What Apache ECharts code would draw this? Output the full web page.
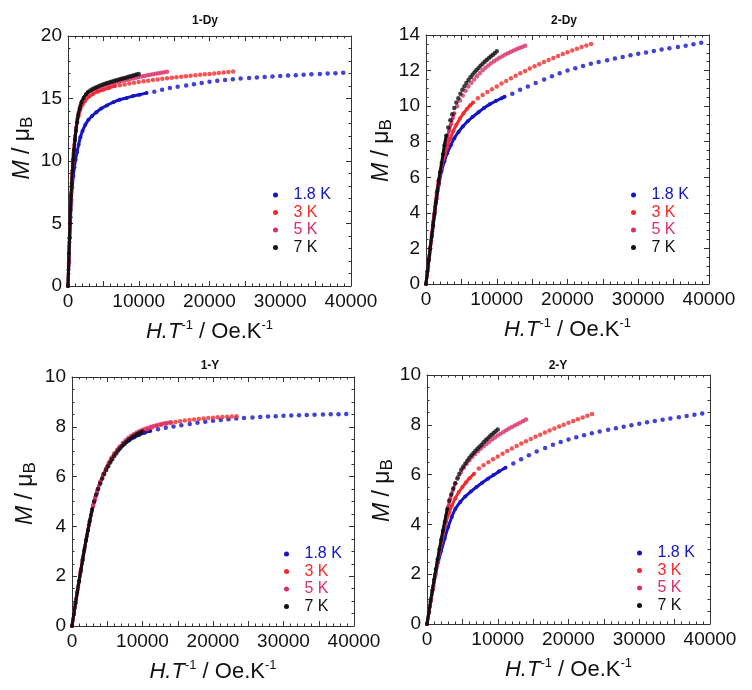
<!DOCTYPE html>
<html><head><meta charset="utf-8">
<script src="https://cdn.jsdelivr.net/npm/echarts@6/dist/echarts.min.js"></script>
<style>html,body{margin:0;padding:0;background:#fff}#c{width:752px;height:690px}</style>
</head><body><div id="c"></div>
<script>
// ---------- labels ----------
const temps = ['1.8 K', '3 K', '5 K', '7 K'];
const panelTitles = ['1-Dy', '2-Dy', '1-Y', '2-Y'];
const xTickLabels = [0, 10000, 20000, 30000, 40000];
const yMaxes = [20, 14, 10, 10];
const yIntervals = [5, 2, 2, 2];

// ---------- 1-Dy ----------
const dy1_18_low = [[0,0],[120,2.0],[240,3.9],[360,5.5],[480,6.9],[600,7.9],[750,8.8],[900,9.5],[1070,10.1],[1270,10.7],[1500,11.3],[1750,11.9],[2050,12.4],[2450,12.9],[2900,13.3],[3400,13.6],[4000,13.9],[4700,14.2],[5500,14.45],[6400,14.7],[7300,14.9],[8300,15.05],[9200,15.2],[10100,15.3],[11100,15.45]];
const dy1_18_high = [[12200,15.55],[13300,15.7],[14400,15.85],[15500,15.95],[16700,16.05],[17800,16.15],[18900,16.25],[20000,16.35],[21100,16.42],[22200,16.48],[23300,16.54],[24400,16.6],[25600,16.65],[26700,16.69],[27800,16.73],[28900,16.77],[30000,16.8],[31100,16.84],[32200,16.87],[33300,16.9],[34400,16.94],[35600,16.97],[36700,17.0],[37800,17.03],[38900,17.06]];
const dy1_3_low = [[0,0],[100,1.8],[200,3.5],[300,5.1],[400,6.6],[500,7.9],[600,9.0],[700,9.9],[800,10.7],[950,11.6],[1100,12.4],[1300,13.1],[1500,13.6],[1750,14.1],[2050,14.5],[2400,14.8],[2900,15.1],[3500,15.35],[4200,15.55],[5000,15.7],[5800,15.85],[6650,16.0]];
const dy1_3_high = [[7330,16.07],[8000,16.13],[8670,16.2],[9330,16.26],[10000,16.32],[10670,16.38],[11330,16.43],[12000,16.48],[12670,16.53],[13330,16.58],[14000,16.63],[14670,16.67],[15330,16.71],[16000,16.75],[16670,16.79],[17330,16.83],[18000,16.87],[18670,16.9],[19330,16.94],[20000,16.97],[20670,17.0],[21330,17.04],[22000,17.08],[22670,17.12],[23330,17.16]];
const dy1_5_low = [[0,0],[90,1.6],[180,3.2],[270,4.7],[360,6.1],[450,7.4],[550,8.6],[650,9.6],[760,10.5],[880,11.3],[1000,12.0],[1150,12.7],[1320,13.4],[1500,13.9],[1720,14.4],[2000,14.8],[2350,15.15],[2800,15.4],[3300,15.6],[4000,15.78]];
const dy1_5_high = [[4400,15.85],[4800,15.93],[5200,16.0],[5600,16.07],[6000,16.14],[6400,16.21],[6800,16.28],[7200,16.34],[7600,16.4],[8000,16.46],[8400,16.51],[8800,16.57],[9200,16.62],[9600,16.67],[10000,16.72],[10400,16.77],[10800,16.81],[11200,16.86],[11600,16.9],[12000,16.94],[12400,16.98],[12800,17.02],[13200,17.06],[13600,17.1],[14000,17.14]];
const dy1_7_low = [[0,0],[70,1.3],[140,2.6],[210,3.8],[280,5.0],[350,6.1],[430,7.2],[520,8.2],[620,9.2],[730,10.1],[850,10.9],[980,11.7],[1120,12.4],[1280,13.1],[1450,13.7],[1650,14.2],[1900,14.7],[2200,15.05],[2550,15.35],[2860,15.55]];
const dy1_7_high = [[3140,15.65],[3430,15.74],[3710,15.82],[4000,15.9],[4290,15.97],[4570,16.04],[4860,16.1],[5140,16.16],[5430,16.22],[5710,16.27],[6000,16.32],[6290,16.37],[6570,16.42],[6860,16.47],[7140,16.51],[7430,16.56],[7710,16.6],[8000,16.65],[8290,16.69],[8570,16.74],[8860,16.78],[9140,16.83],[9430,16.88],[9710,16.92],[10000,16.97]];

// ---------- 2-Dy ----------
const dy2_18_low = [[0,0],[300,1.0],[600,2.0],[900,2.95],[1200,3.9],[1500,4.8],[1850,5.65],[2200,6.35],[2600,6.9],[3000,7.35],[3500,7.8],[4000,8.2],[4600,8.55],[5200,8.85],[5900,9.15],[6600,9.4],[7400,9.65],[8200,9.9],[9000,10.1],[9900,10.3],[10700,10.45],[11100,10.53]];
const dy2_18_high = [[12200,10.7],[13300,10.92],[14400,11.1],[15500,11.3],[16700,11.5],[17800,11.68],[18900,11.85],[20000,12.0],[21100,12.13],[22200,12.26],[23300,12.38],[24400,12.48],[25600,12.58],[26700,12.68],[27800,12.77],[28900,12.86],[30000,12.94],[31100,13.02],[32200,13.1],[33300,13.18],[34400,13.25],[35600,13.32],[36700,13.4],[37800,13.48],[38900,13.56]];
const dy2_3_low = [[0,0],[200,0.7],[400,1.4],[600,2.1],[800,2.8],[1000,3.5],[1250,4.35],[1500,5.15],[1750,5.8],[2000,6.3],[2300,6.8],[2650,7.25],[3000,7.7],[3400,8.15],[3850,8.6],[4300,8.95],[4800,9.3],[5300,9.6],[5800,9.85],[6250,10.05],[6650,10.2]];
const dy2_3_high = [[7330,10.45],[8000,10.62],[8670,10.79],[9330,10.95],[10000,11.11],[10670,11.27],[11330,11.42],[12000,11.57],[12670,11.71],[13330,11.85],[14000,11.98],[14670,12.11],[15330,12.24],[16000,12.36],[16670,12.48],[17330,12.6],[18000,12.71],[18670,12.82],[19330,12.93],[20000,13.03],[20670,13.13],[21330,13.23],[22000,13.32],[22670,13.41],[23330,13.5]];
const dy2_5_low = [[0,0],[250,0.82],[500,1.64],[750,2.45],[1000,3.25],[1250,4.05],[1500,4.8],[1750,5.5],[2000,6.15],[2250,6.7],[2500,7.2],[2750,7.72],[3000,8.2],[3250,8.6],[3500,8.95],[3750,9.3],[4000,9.6]];
const dy2_5_high = [[4400,10.0],[4800,10.32],[5200,10.6],[5600,10.86],[6000,11.1],[6400,11.31],[6800,11.5],[7200,11.68],[7600,11.85],[8000,12.02],[8400,12.16],[8800,12.29],[9200,12.41],[9600,12.52],[10000,12.62],[10400,12.72],[10800,12.81],[11200,12.9],[11600,12.98],[12000,13.06],[12400,13.13],[12800,13.2],[13200,13.27],[13600,13.33],[14000,13.39]];
const dy2_7_low = [[0,0],[200,0.7],[400,1.35],[600,2.0],[800,2.65],[1000,3.3],[1200,3.95],[1400,4.6],[1600,5.2],[1800,5.8],[2000,6.3],[2200,6.8],[2400,7.3],[2600,7.8],[2860,8.35]];
const dy2_7_high = [[3140,8.8],[3430,9.2],[3710,9.55],[4000,9.9],[4290,10.2],[4570,10.45],[4860,10.7],[5140,10.92],[5430,11.12],[5710,11.3],[6000,11.47],[6290,11.62],[6570,11.76],[6860,11.9],[7140,12.03],[7430,12.15],[7710,12.27],[8000,12.38],[8290,12.49],[8570,12.59],[8860,12.69],[9140,12.79],[9430,12.88],[9710,12.97],[10000,13.08]];

// ---------- 1-Y ----------
const y1_18_low = [[0,0],[500,0.9],[1000,1.8],[1500,2.65],[2000,3.45],[2500,4.2],[3000,4.82],[3500,5.32],[4000,5.75],[4500,6.1],[5000,6.4],[5500,6.65],[6000,6.88],[6700,7.12],[7400,7.3],[8100,7.45],[8800,7.57],[9500,7.67],[10300,7.76],[11100,7.83]];
const y1_18_high = [[12200,7.9],[13300,7.96],[14400,8.01],[15500,8.06],[16700,8.11],[17800,8.16],[18900,8.2],[20000,8.24],[21100,8.27],[22200,8.3],[23300,8.33],[24400,8.35],[25600,8.37],[26700,8.39],[27800,8.41],[28900,8.42],[30000,8.44],[31100,8.45],[32200,8.46],[33300,8.47],[34400,8.48],[35600,8.49],[36700,8.5],[37800,8.5],[38900,8.51]];
const y1_3_low = [[0,0],[400,0.72],[800,1.45],[1200,2.15],[1600,2.82],[2000,3.45],[2400,4.05],[2800,4.6],[3200,5.05],[3600,5.45],[4000,5.78],[4500,6.12],[5000,6.42],[5500,6.7],[6000,6.92],[6650,7.15]];
const y1_3_high = [[7330,7.34],[8000,7.5],[8670,7.62],[9330,7.73],[10000,7.82],[10670,7.9],[11330,7.97],[12000,8.03],[12670,8.08],[13330,8.12],[14000,8.16],[14670,8.19],[15330,8.22],[16000,8.25],[16670,8.27],[17330,8.29],[18000,8.31],[18670,8.33],[19330,8.35],[20000,8.36],[20670,8.38],[21330,8.39],[22000,8.4],[22670,8.41],[23330,8.42]];
const y1_5_low = [[0,0],[300,0.55],[600,1.1],[900,1.63],[1200,2.15],[1500,2.66],[1800,3.15],[2100,3.6],[2400,4.05],[2700,4.45],[3000,4.85],[3300,5.17],[3650,5.5],[4000,5.78]];
const y1_5_high = [[4400,6.08],[4800,6.32],[5200,6.55],[5600,6.75],[6000,6.93],[6400,7.08],[6800,7.22],[7200,7.35],[7600,7.46],[8000,7.56],[8400,7.64],[8800,7.71],[9200,7.77],[9600,7.83],[10000,7.88],[10400,7.92],[10800,7.96],[11200,8.0],[11600,8.03],[12000,8.06],[12400,8.09],[12800,8.12],[13200,8.14],[13600,8.16],[14000,8.18]];
const y1_7_low = [[0,0],[250,0.46],[500,0.92],[750,1.37],[1000,1.8],[1250,2.23],[1500,2.65],[1750,3.06],[2000,3.45],[2250,3.83],[2500,4.2],[2860,4.7]];
const y1_7_high = [[3140,5.0],[3430,5.27],[3710,5.5],[4000,5.72],[4290,5.92],[4570,6.1],[4860,6.27],[5140,6.42],[5430,6.57],[5710,6.7],[6000,6.83],[6290,6.94],[6570,7.05],[6860,7.15],[7140,7.24],[7430,7.32],[7710,7.4],[8000,7.47],[8290,7.53],[8570,7.59],[8860,7.64],[9140,7.69],[9430,7.73],[9710,7.77],[10000,7.81]];

// ---------- 2-Y ----------
const y2_18_low = [[0,0],[400,0.7],[800,1.38],[1200,1.98],[1600,2.5],[2000,2.93],[2500,3.43],[3000,3.9],[3500,4.3],[4000,4.62],[4700,4.9],[5400,5.12],[6200,5.32],[7000,5.5],[7800,5.67],[8600,5.83],[9400,5.98],[10200,6.13],[11100,6.28]];
const y2_18_high = [[12200,6.45],[13300,6.62],[14400,6.78],[15500,6.93],[16700,7.07],[17800,7.2],[18900,7.31],[20000,7.41],[21100,7.5],[22200,7.58],[23300,7.66],[24400,7.73],[25600,7.8],[26700,7.86],[27800,7.92],[28900,7.98],[30000,8.04],[31100,8.1],[32200,8.15],[33300,8.2],[34400,8.25],[35600,8.3],[36700,8.35],[37800,8.4],[38900,8.45]];
const y2_3_low = [[0,0],[300,0.5],[600,1.0],[900,1.5],[1200,2.0],[1500,2.48],[1800,2.93],[2100,3.35],[2400,3.75],[2700,4.1],[3100,4.45],[3500,4.75],[4000,5.05],[4500,5.3],[5000,5.5],[5500,5.68],[6000,5.85],[6650,6.03]];
const y2_3_high = [[7330,6.25],[8000,6.38],[8670,6.5],[9330,6.62],[10000,6.73],[10670,6.84],[11330,6.95],[12000,7.05],[12670,7.15],[13330,7.25],[14000,7.34],[14670,7.43],[15330,7.52],[16000,7.6],[16670,7.69],[17330,7.77],[18000,7.85],[18670,7.93],[19330,8.0],[20000,8.08],[20670,8.15],[21330,8.22],[22000,8.29],[22670,8.36],[23330,8.43]];
const y2_5_low = [[0,0],[300,0.51],[600,1.02],[900,1.53],[1200,2.03],[1500,2.52],[1800,3.0],[2100,3.47],[2400,3.92],[2700,4.35],[3000,4.72],[3300,5.05],[3650,5.37],[4000,5.65]];
const y2_5_high = [[4400,5.9],[4800,6.1],[5200,6.28],[5600,6.44],[6000,6.58],[6400,6.71],[6800,6.83],[7200,6.94],[7600,7.04],[8000,7.14],[8400,7.23],[8800,7.32],[9200,7.41],[9600,7.49],[10000,7.57],[10400,7.64],[10800,7.71],[11200,7.78],[11600,7.85],[12000,7.91],[12400,7.97],[12800,8.03],[13200,8.09],[13600,8.15],[14000,8.21]];
const y2_7_low = [[0,0],[250,0.45],[500,0.9],[750,1.35],[1000,1.78],[1250,2.2],[1500,2.6],[1750,3.0],[2000,3.38],[2250,3.75],[2500,4.1],[2860,4.62]];
const y2_7_high = [[3140,4.95],[3430,5.2],[3710,5.44],[4000,5.65],[4290,5.84],[4570,6.02],[4860,6.2],[5140,6.33],[5430,6.45],[5710,6.57],[6000,6.68],[6290,6.78],[6570,6.87],[6860,6.96],[7140,7.04],[7430,7.12],[7710,7.2],[8000,7.3],[8290,7.38],[8570,7.45],[8860,7.53],[9140,7.6],[9430,7.67],[9710,7.74],[10000,7.81]];

// ---------- assembly ----------
const lowSets = [
  [dy1_18_low, dy1_3_low, dy1_5_low, dy1_7_low],
  [dy2_18_low, dy2_3_low, dy2_5_low, dy2_7_low],
  [y1_18_low, y1_3_low, y1_5_low, y1_7_low],
  [y2_18_low, y2_3_low, y2_5_low, y2_7_low]
];
const highSets = [
  [dy1_18_high, dy1_3_high, dy1_5_high, dy1_7_high],
  [dy2_18_high, dy2_3_high, dy2_5_high, dy2_7_high],
  [y1_18_high, y1_3_high, y1_5_high, y1_7_high],
  [y2_18_high, y2_3_high, y2_5_high, y2_7_high]
];

const colors = ['#1414c8', '#f52a2a', '#dc2f68', '#111111'];
const FONT = '"Liberation Sans", Arial, sans-serif';
const grids = [
  {left: 68, top: 36, width: 283, height: 250},
  {left: 426, top: 35, width: 283, height: 249},
  {left: 72, top: 377, width: 282, height: 249},
  {left: 427, top: 375, width: 283, height: 249}
];
const titlePos = [[200, 10], [559, 10], [205, 355], [553, 355]];
const legendPos = [[273, 187], [631, 187], [284, 546], [637, 545]];
const yNameGap = [32, 30, 33, 31];
const yNameShift = [26, 18, 16, 18];
const frame = '#333';

const xAxes = [], yAxes = [], series = [], titles = [], legends = [];
const xRich = {
  i: {fontStyle: 'italic', fontSize: 22, fontFamily: FONT, color: '#111', lineHeight: 26},
  n: {fontSize: 22, fontFamily: FONT, color: '#111', lineHeight: 26},
  sup: {fontSize: 13, fontFamily: FONT, color: '#111', verticalAlign: 'top', lineHeight: 15}
};
const yRich = {
  i: {fontStyle: 'italic', fontSize: 23, fontFamily: FONT, color: '#111', lineHeight: 26},
  n: {fontSize: 23, fontFamily: FONT, color: '#111', lineHeight: 26},
  sub: {fontSize: 17, fontFamily: FONT, color: '#111', verticalAlign: 'bottom', lineHeight: 18}
};
const xName = '{i|H.T}{sup|-1}{n| / Oe.K}{sup|-1}';
const yName = '{i|M}{n| / μ}{sub|B}';

for (let p = 0; p < 4; p++) {
  const common = {
    gridIndex: p, type: 'value',
    axisLine: {show: true, onZero: false, lineStyle: {color: frame, width: 1}},
    axisTick: {show: true, inside: true, length: 5, lineStyle: {color: frame}},
    minorTick: {show: true, length: 2.5, lineStyle: {color: frame}},
    splitLine: {show: false}
  };
  xAxes.push(Object.assign({}, common, {
    min: xTickLabels[0], max: xTickLabels[xTickLabels.length - 1], interval: 5000, position: 'bottom',
    minorTick: Object.assign({}, common.minorTick, {splitNumber: 5}),
    axisLabel: {formatter: v => (xTickLabels.indexOf(v) >= 0 ? String(v) : ''), color: '#111', fontSize: 19, fontFamily: FONT, margin: 6},
    name: xName, nameLocation: 'middle', nameGap: 33,
    nameTextStyle: {rich: xRich}
  }));
  xAxes.push(Object.assign({}, common, {
    min: xTickLabels[0], max: xTickLabels[xTickLabels.length - 1], interval: 5000, position: 'top',
    minorTick: Object.assign({}, common.minorTick, {splitNumber: 5}),
    axisLabel: {show: false}
  }));
  const ySplit = p === 0 ? 5 : 4;
  yAxes.push(Object.assign({}, common, {
    min: 0, max: yMaxes[p], interval: yIntervals[p], position: 'left',
    minorTick: Object.assign({}, common.minorTick, {splitNumber: ySplit}),
    axisLabel: {color: '#111', fontSize: 19, fontFamily: FONT, margin: 6},
    name: yName, nameLocation: 'middle', nameGap: yNameGap[p],
    nameTextStyle: {rich: yRich, padding: [0, 0, 0, yNameShift[p]]}
  }));
  yAxes.push(Object.assign({}, common, {
    min: 0, max: yMaxes[p], interval: yIntervals[p], position: 'right',
    minorTick: Object.assign({}, common.minorTick, {splitNumber: ySplit}),
    axisLabel: {show: false}
  }));
  for (let k = 0; k < 4; k++) {
    series.push({
      type: 'line', name: temps[k], xAxisIndex: 2 * p, yAxisIndex: 2 * p,
      data: lowSets[p][k], smooth: 0.2, symbol: 'circle', symbolSize: 4, showSymbol: true,
      lineStyle: {width: 3, color: colors[k]}, itemStyle: {color: colors[k]},
      animation: false, silent: true, z: 2 + k
    });
    series.push({
      type: 'scatter', name: temps[k], xAxisIndex: 2 * p, yAxisIndex: 2 * p,
      data: highSets[p][k], symbol: 'circle', symbolSize: 4.5,
      itemStyle: {color: colors[k]}, animation: false, silent: true, z: 2 + k
    });
  }
  titles.push({
    text: panelTitles[p], left: titlePos[p][0], top: titlePos[p][1], textAlign: 'center',
    textStyle: {fontSize: 12, fontWeight: 'bold', fontFamily: FONT, color: '#111'}
  });
  legends.push({
    data: temps.map((n, k) => ({name: n, textStyle: {color: colors[k]}})),
    orient: 'vertical', left: legendPos[p][0], top: legendPos[p][1],
    icon: 'circle', itemWidth: 26, itemHeight: 5, itemGap: 1.5, padding: 0,
    selectedMode: false,
    textStyle: {fontSize: 16, fontFamily: FONT, lineHeight: 16}
  });
}

const chart = echarts.init(document.getElementById('c'), null, {renderer: 'canvas'});
chart.setOption({
  backgroundColor: '#fff',
  animation: false,
  title: titles,
  legend: legends,
  grid: grids,
  xAxis: xAxes,
  yAxis: yAxes,
  series: series
});
</script>
</body></html>
